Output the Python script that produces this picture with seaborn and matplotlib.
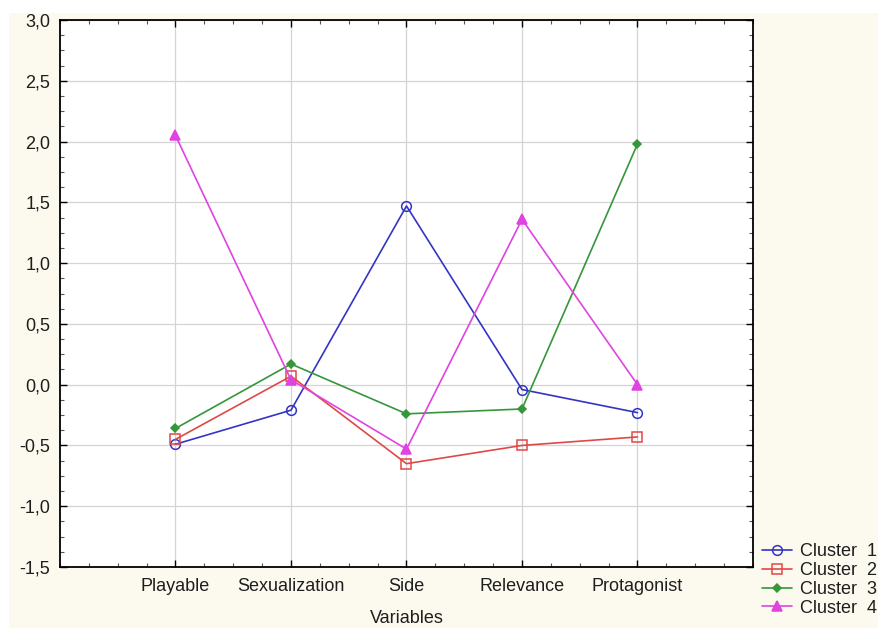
import matplotlib
matplotlib.use("Agg")
import matplotlib.pyplot as plt
import seaborn as sns
import pandas as pd
from matplotlib.ticker import MultipleLocator, FuncFormatter, AutoMinorLocator
from matplotlib.patches import Rectangle

# Data
variables = ["Playable", "Sexualization", "Side", "Relevance", "Protagonist"]
cluster_1 = [-0.49, -0.21, 1.47, -0.04, -0.23]
cluster_2 = [-0.45, 0.07, -0.65, -0.50, -0.43]
cluster_3 = [-0.36, 0.17, -0.24, -0.20, 1.98]
cluster_4 = [2.05, 0.04, -0.53, 1.36, 0.00]
cluster_names = ["Cluster  1", "Cluster  2", "Cluster  3", "Cluster  4"]

rows = []
for name, vals in zip(cluster_names, [cluster_1, cluster_2, cluster_3, cluster_4]):
    for i, (var, v) in enumerate(zip(variables, vals)):
        rows.append({"Cluster": name, "pos": i + 1, "Variable": var, "value": v})
df = pd.DataFrame(rows)

sns.set_style("white")
plt.rcParams["font.family"] = ["Liberation Sans", "DejaVu Sans"]

bg = "#fcf9ee"
txt = "#1e1e1e"
fig = plt.figure(figsize=(8.79, 6.28), dpi=100, facecolor=bg)
# thin white border at top and left, as in the original screenshot
fig.patches.append(Rectangle((0, 1 - 13 / 628), 1, 13 / 628, transform=fig.transFigure,
                             facecolor="white", edgecolor="none", zorder=0))
fig.patches.append(Rectangle((0, 0), 9 / 879, 1, transform=fig.transFigure,
                             facecolor="white", edgecolor="none", zorder=0))

ax = fig.add_axes([60 / 879, 61 / 628, 693 / 879, 547 / 628])
ax.set_facecolor("white")

colors = ["#3434c4", "#e04848", "#35963a", "#e044e0"]
markers = ["o", "s", "D", "^"]
msizes = [7, 7, 4.5, 6.5]
fills = ["none", "none", "full", "full"]

for name, c, m, ms, fs in zip(cluster_names, colors, markers, msizes, fills):
    sub = df[df["Cluster"] == name]
    sns.lineplot(data=sub, x="pos", y="value", ax=ax, color=c, linewidth=1.2,
                 marker=m, markersize=ms, fillstyle=fs, markeredgecolor=c,
                 markeredgewidth=1.1, label=name, zorder=3)

ax.set_xlim(0, 6)
ax.set_ylim(-1.5, 3.0)
ax.set_xticks(range(1, 6))
ax.set_xticklabels(variables)
ax.xaxis.set_minor_locator(AutoMinorLocator(4))
ax.yaxis.set_major_locator(MultipleLocator(0.5))
ax.yaxis.set_minor_locator(AutoMinorLocator(4))
ax.yaxis.set_major_formatter(FuncFormatter(lambda v, p: f"{v:.1f}".replace(".", ",")))
ax.grid(True, which="major", color="#d4d4d4", linewidth=0.9, zorder=0)
ax.tick_params(which="both", direction="in", top=True, right=True, left=True, bottom=True,
               labelsize=13, labelcolor=txt, colors="black")
ax.tick_params(axis="y", pad=7)
ax.tick_params(axis="x", pad=8)
ax.tick_params(which="major", length=5, width=1)
ax.tick_params(which="minor", length=3, width=0.8, colors="#555555")
for s in ax.spines.values():
    s.set_color("black")
    s.set_linewidth(1.3)

ax.set_xlabel("Variables", fontsize=13, color=txt, labelpad=11)
ax.set_ylabel("")

leg = ax.legend(loc="lower left", bbox_to_anchor=(1.003, -0.104), frameon=False,
                fontsize=13, handlelength=1.65, handletextpad=0.45, labelspacing=0.1,
                borderaxespad=0)
for t in leg.get_texts():
    t.set_color(txt)

fig.savefig("out.png", dpi=100, facecolor=bg)
